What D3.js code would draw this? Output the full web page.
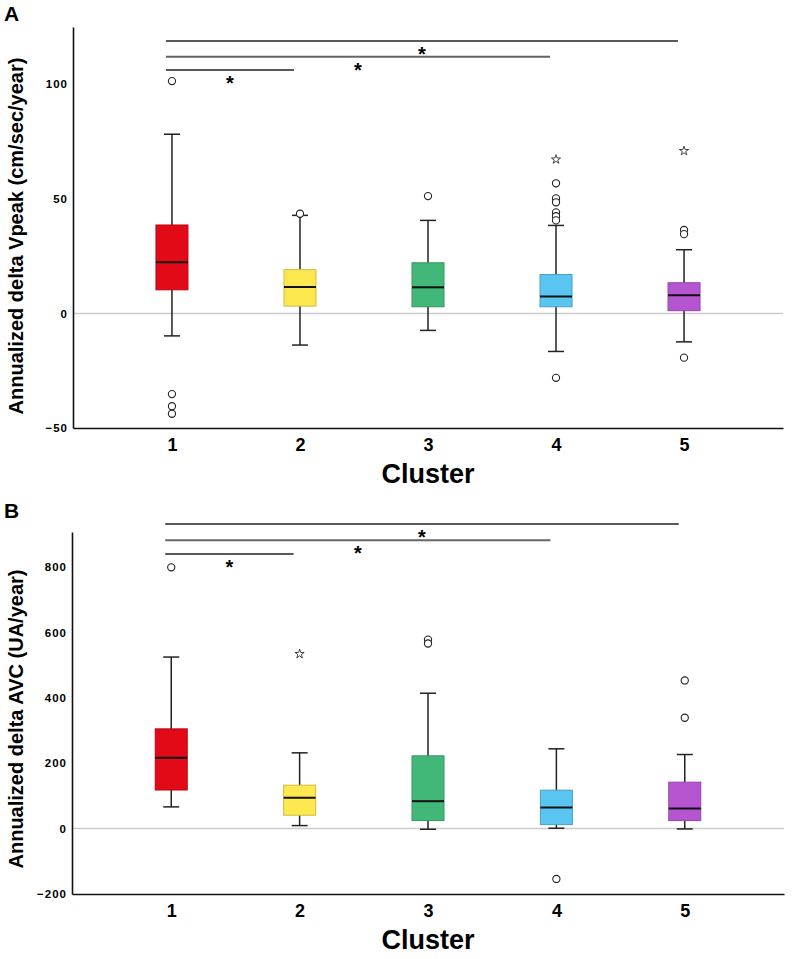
<!DOCTYPE html>
<html>
<head>
<meta charset="utf-8">
<script src="https://cdn.jsdelivr.net/npm/d3@7"></script>
<style>
  body { margin: 0; background: #fff; }
  svg text { font-family: "Liberation Sans", Arial, sans-serif; font-weight: bold; fill: #000; }
</style>
</head>
<body>
<div id="chart"></div>
<script>
// categories
const clusters = [1, 2, 3, 4, 5];
const clusterColors = ["#E30A17", "#FDE94F", "#41B877", "#5AC5F0", "#B655D2"];

// panel A: annualized delta Vpeak
const vpeakTicks = [100, 50, 0, -50];
const vpeakQ3 = [38.6, 19.1, 22.1, 17.0, 13.4];
const vpeakMedian = [22.3, 11.5, 11.4, 7.4, 7.9];
const vpeakQ1 = [10.3, 3.2, 2.9, 2.9, 1.2];
const vpeakWhiskerHigh = [78.2, 42.8, 40.6, 38.4, 27.8];
const vpeakWhiskerLow = [-9.8, -13.8, -7.4, -16.6, -12.4];
const vpeakOutliers = [[101.4, -35.2, -40.5, -43.8], [43.5], [51.2], [56.8, 50.2, 48.5, 44.1, 42.4, 40.6, -28.1], [36.4, 34.6, -19.3]];
const vpeakExtremes = [[], [], [], [67.2], [70.9]];
const vpeakSigLevels = [106.2, 112.0, 118.9];

// panel B: annualized delta AVC
const avcTicks = [800, 600, 400, 200, 0, -200];
const avcQ3 = [305, 132.8, 222.5, 117.5, 142];
const avcMedian = [217, 94, 83.8, 64.3, 61.2];
const avcQ1 = [118, 41, 24.5, 12.2, 24.5];
const avcWhiskerHigh = [524.6, 231.7, 414, 244, 226.5];
const avcWhiskerLow = [66.4, 9.2, -2, 1, -1];
const avcOutliers = [[799], [], [578, 566], [-154], [453, 339]];
const avcExtremes = [[], [534], [], [], []];
const avcSigLevels = [840, 881.5, 931.7];

// significance comparisons (cluster 1 vs ...)
const sigPairs = [[1, 2], [1, 4], [1, 5]];

const svg = d3.select("#chart").append("svg")
    .attr("width", 793)
    .attr("height", 959);

function drawPanel(cfg) {
    const g = svg.append("g");

    const x = d3.scalePoint()
        .domain(clusters)
        .range([cfg.left, cfg.right])
        .padding(0.773);

    const y = d3.scaleLinear()
        .domain(cfg.domain)
        .range([cfg.bottom, cfg.top]);

    const boxes = clusters.map((c, i) => ({
        c: c,
        q1: cfg.q1[i], med: cfg.median[i], q3: cfg.q3[i],
        lo: cfg.low[i], hi: cfg.high[i],
        color: clusterColors[i]
    }));

    // zero reference line
    g.append("line")
        .attr("x1", cfg.left).attr("x2", cfg.right)
        .attr("y1", y(0)).attr("y2", y(0))
        .style("stroke", "#cccccc")
        .style("stroke-width", 1.5);

    // axes
    const yAxis = g.append("g")
        .attr("transform", "translate(" + cfg.left + ",0)")
        .call(d3.axisLeft(y).tickValues(cfg.ticks).tickSize(0).tickSizeOuter(0).tickPadding(5));
    yAxis.select(".domain").style("stroke", "#111").style("stroke-width", 1.6);
    yAxis.selectAll(".tick text")
        .style("font-size", "11.5px")
        .style("letter-spacing", "1px")
        .style("font-family", "'Liberation Sans', Arial, sans-serif")
        .style("font-weight", "bold");

    const xAxis = g.append("g")
        .attr("transform", "translate(0," + cfg.bottom + ")")
        .call(d3.axisBottom(x).tickSize(0).tickSizeOuter(0).tickPadding(10));
    xAxis.select(".domain").style("stroke", "#111").style("stroke-width", 1.6);
    xAxis.selectAll(".tick text")
        .style("font-size", "18px")
        .style("font-family", "'Liberation Sans', Arial, sans-serif")
        .style("font-weight", "bold");

    const boxW = 32, capW = 16;

    // whiskers
    g.selectAll(".whisker")
        .data(boxes)
        .join("line")
            .attr("class", "whisker")
            .attr("x1", d => x(d.c)).attr("x2", d => x(d.c))
            .attr("y1", d => y(d.lo)).attr("y2", d => y(d.hi))
            .style("stroke", "#222").style("stroke-width", 1.5);

    ["lo", "hi"].forEach(k => {
        g.selectAll(".cap-" + k)
            .data(boxes)
            .join("line")
                .attr("class", "cap-" + k)
                .attr("x1", d => x(d.c) - capW / 2).attr("x2", d => x(d.c) + capW / 2)
                .attr("y1", d => y(d[k])).attr("y2", d => y(d[k]))
                .style("stroke", "#222").style("stroke-width", 1.5);
    });

    // boxes
    g.selectAll(".box")
        .data(boxes)
        .join("rect")
            .attr("class", "box")
            .attr("x", d => x(d.c) - boxW / 2)
            .attr("width", boxW)
            .attr("y", d => y(d.q3))
            .attr("height", d => y(d.q1) - y(d.q3))
            .style("fill", d => d.color)
            .style("stroke", d => d3.color(d.color).darker(0.6))
            .style("stroke-width", 1);

    g.selectAll(".median")
        .data(boxes)
        .join("line")
            .attr("class", "median")
            .attr("x1", d => x(d.c) - boxW / 2).attr("x2", d => x(d.c) + boxW / 2)
            .attr("y1", d => y(d.med)).attr("y2", d => y(d.med))
            .style("stroke", "#111").style("stroke-width", 2);

    // outliers
    const outs = [];
    cfg.outliers.forEach((arr, i) => arr.forEach(v => outs.push({c: clusters[i], v: v})));
    g.selectAll(".outlier")
        .data(outs)
        .join("circle")
            .attr("class", "outlier")
            .attr("cx", d => x(d.c))
            .attr("cy", d => y(d.v))
            .attr("r", 3.6)
            .style("fill", "#fff")
            .style("stroke", "#222")
            .style("stroke-width", 1.1);

    // extremes
    const ext = [];
    cfg.extremes.forEach((arr, i) => arr.forEach(v => ext.push({c: clusters[i], v: v})));
    g.selectAll(".extreme")
        .data(ext)
        .join("path")
            .attr("class", "extreme")
            .attr("transform", d => "translate(" + x(d.c) + "," + y(d.v) + ")")
            .attr("d", d3.symbol(d3.symbolStar, 26))
            .style("fill", "#fff")
            .style("stroke", "#333")
            .style("stroke-width", 0.9);

    // significance bars
    const sig = sigPairs.map((p, i) => ({a: p[0], b: p[1], level: cfg.sigLevels[i]}));
    g.selectAll(".sig-line")
        .data(sig)
        .join("line")
            .attr("class", "sig-line")
            .attr("x1", d => x(d.a) - 6)
            .attr("x2", d => x(d.b) - 6)
            .attr("y1", d => y(d.level)).attr("y2", d => y(d.level))
            .style("stroke", (d, i) => i === 1 ? "#666" : "#222")
            .style("stroke-width", (d, i) => i === 1 ? 2 : 1.5);

    g.selectAll(".sig-star")
        .data(sig)
        .join("text")
            .attr("class", "sig-star")
            .attr("x", d => (x(d.a) + x(d.b)) / 2 - 6)
            .attr("y", d => y(d.level) + 20)
            .style("font-size", "20px")
            .style("text-anchor", "middle")
            .text("*");

    // axis titles
    g.append("text")
        .attr("transform", "translate(23," + cfg.titleY + ") rotate(-90)")
        .style("font-size", "20px")
        .style("text-anchor", "middle")
        .text(cfg.yTitle);

    g.append("text")
        .attr("x", (cfg.left + cfg.right) / 2)
        .attr("y", cfg.bottom + 55)
        .style("font-size", "27px")
        .style("text-anchor", "middle")
        .text("Cluster");

    g.append("text")
        .attr("x", 4)
        .attr("y", cfg.labelY)
        .style("font-size", "21px")
        .text(cfg.label);
}

drawPanel({
    label: "A", labelY: 21,
    left: 73, right: 783, top: 27, bottom: 428,
    domain: [-50, 125], ticks: vpeakTicks,
    q1: vpeakQ1, median: vpeakMedian, q3: vpeakQ3,
    low: vpeakWhiskerLow, high: vpeakWhiskerHigh,
    outliers: vpeakOutliers, extremes: vpeakExtremes,
    sigLevels: vpeakSigLevels,
    yTitle: "Annualized delta Vpeak (cm/sec/year)", titleY: 236
});

drawPanel({
    label: "B", labelY: 518,
    left: 72, right: 784, top: 532, bottom: 894,
    domain: [-200, 907], ticks: avcTicks,
    q1: avcQ1, median: avcMedian, q3: avcQ3,
    low: avcWhiskerLow, high: avcWhiskerHigh,
    outliers: avcOutliers, extremes: avcExtremes,
    sigLevels: avcSigLevels,
    yTitle: "Annualized delta AVC (UA/year)", titleY: 719
});
</script>
</body>
</html>
